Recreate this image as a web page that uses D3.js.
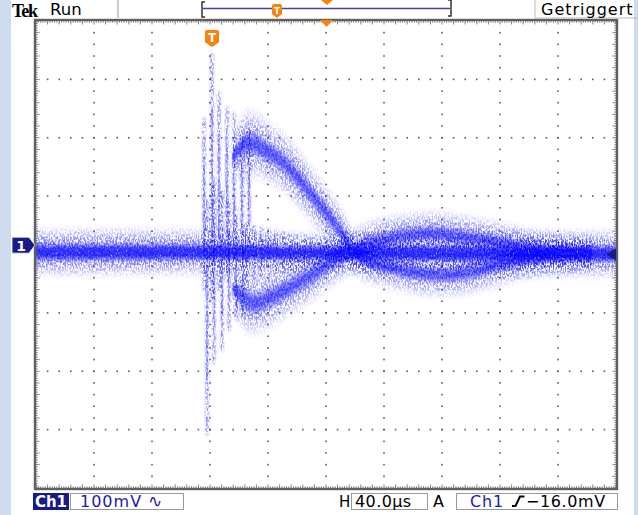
<!DOCTYPE html>
<html><head><meta charset="utf-8">
<script src="https://cdn.jsdelivr.net/npm/d3@7"></script>
<style>body{margin:0;background:#fff}svg{display:block}</style>
</head><body>
<svg id="c" width="638" height="515"></svg>
<script>
// ---------- data (time in µs relative to trigger, voltage in mV relative to ground) ----------
const timeDomain = [-121.4, 278.6];   // 10 div x 40 µs
const voltDomain = [-416, 384];       // 8 div x 100 mV
const divT = 40, divV = 100;
const triggerLevel = -16;

// baseline noise band (centre + half width)
const baseT = [-121.4, -60, -6, 20, 60, 100, 160, 220, 278.6];
const baseV = [-12, -12, -12, -12, -13, -13, -14, -15, -15];
const baseW = [31, 31, 30, 30, 27, 28, 30, 31, 31];

// upper branch (starts high, swings below baseline)
const upT = [14, 19, 24, 30, 38, 47, 59, 70, 79, 86, 92, 97, 105, 123, 150, 173, 197, 219, 240, 262];
const upV = [150, 165, 173, 172, 160, 146, 116, 82, 55, 33, 12, -9, -25, -38, -50, -48, -34, -22, -15, -14];
const upW = [18, 40, 46, 44, 42, 40, 40, 38, 36, 34, 32, 30, 30, 30, 30, 30, 30, 28, 25, 22];

// lower branch (starts low, swings above baseline)
const loT = [14, 19, 24, 30, 41, 57, 69, 79, 91, 97, 105, 123, 150, 173, 197, 219, 240, 262];
const loV = [-75, -85, -95, -99, -89, -68, -51, -34, -17, -10, 0, 12, 20, 14, 5, -5, -12, -14];
const loW = [18, 38, 44, 42, 40, 38, 36, 34, 32, 30, 30, 30, 30, 30, 28, 26, 24, 22];

// ringing burst columns
const spkT  = [-5.5, -3.4, 0, 1.4, 4.8, 6.9, 10.3, 11.7, 15.2, 16.6, 20.7, 21.4, 25.5];
const spkHi = [216, 77, 330, 111, 262, 94, 236, 77, 226, 60, 193, 34, 200];
const spkLo = [-77, -325, -94, -202, -77, -180, -60, -146, -43, -128, -34, -120, -17];

// decaying comb on the middle band
const combT  = [24, 29, 34, 39, 44, 49, 54, 59, 64, 69, 74, 79];
const combHi = [38, 35, 31, 28, 25, 22, 19, 16, 13, 11, 9, 7];
const combLo = [-62, -58, -54, -50, -47, -44, -41, -38, -35, -32, -30, -28];

// ---------- layout ----------
const svg = d3.select('#c');
const L = 36, R = 616, T = 21, B = 488;
const x = d3.scaleLinear().domain(timeDomain).range([L, R]);
const y = d3.scaleLinear().domain(voltDomain).range([B, T]);
const navy = '#1a1a86', orange = '#f7820c', gridC = '#5c5c5c';

// side strips
svg.append('rect').attr('x', 0).attr('y', 0).attr('width', 11).attr('height', 515).attr('fill', '#cfdbee');
svg.append('rect').attr('x', 634).attr('y', 0).attr('width', 4).attr('height', 515).attr('fill', '#cfdbee');

// filters (speckle texture of the persistence display)
const defs = svg.append('defs');
function grain(id, fx, fy, gain, off, seed, blur) {
  const f = defs.append('filter').attr('id', id).attr('filterUnits', 'userSpaceOnUse')
    .attr('x', 0).attr('y', 0).attr('width', 638).attr('height', 515);
  f.append('feTurbulence').attr('type', 'fractalNoise').attr('baseFrequency', fx + ' ' + fy)
    .attr('numOctaves', 3).attr('seed', seed).attr('result', 'n');
  f.append('feColorMatrix').attr('in', 'n').attr('type', 'matrix')
    .attr('values', `0 0 0 0 0  0 0 0 0 0  0 0 0 0 0  ${gain} 0 0 0 ${off}`).attr('result', 'm');
  f.append('feGaussianBlur').attr('in', 'SourceGraphic').attr('stdDeviation', blur).attr('result', 'b');
  f.append('feComposite').attr('in', 'b').attr('in2', 'm').attr('operator', 'in');
}
grain('gA', 0.75, 0.35, 5.0, -2.0, 3, '0.8 2');
grain('gB', 0.8, 0.4, 2.4, 0.0, 11, '0.5 1.2');

// ---------- graticule ----------
const grid = svg.append('g');
const minorT = d3.range(0, 10.0001, 0.2).map(d => timeDomain[0] + d * divT);
const minorV = d3.range(0, 8.0001, 0.2).map(d => voltDomain[0] + d * divV);
const majT = d3.range(1, 10).map(d => timeDomain[0] + d * divT);
const majV = d3.range(1, 8).map(d => voltDomain[0] + d * divV);
majT.forEach(t => minorV.slice(1, -1).forEach(v => grid.append('rect')
  .attr('x', x(t) - 0.8).attr('y', y(v) - 0.8).attr('width', 1.6).attr('height', 1.6).attr('fill', gridC)));
majV.forEach(v => minorT.slice(1, -1).forEach(t => grid.append('rect')
  .attr('x', x(t) - 0.8).attr('y', y(v) - 0.8).attr('width', 1.6).attr('height', 1.6).attr('fill', gridC)));

// ---------- trace ----------
function bandData(Ts, Vs, Ws) { return Ts.map((t, i) => ({ t, v: Vs[i], w: Ws[i] })); }
const bands = [bandData(baseT, baseV, baseW), bandData(upT, upV, upW), bandData(loT, loV, loW)];
const area = k => d3.area().x(d => x(d.t)).y0(d => y(d.v - d.w * k)).y1(d => y(d.v + d.w * k))
  .curve(d3.curveCatmullRom);

const halo = svg.append('g').attr('filter', 'url(#gA)');
bands.forEach((b, bi) => {
  [[1.35, 0.14], [1.05, 0.2], [0.78, 0.28]].forEach(([k, op]) =>
    halo.append('path').datum(b).attr('d', area(k)).attr('fill', '#0000ff').attr('fill-opacity', op * (bi ? 0.8 : 1)));
});
spkT.forEach((t, i) => {
  halo.append('line').attr('x1', x(t)).attr('x2', x(t)).attr('y1', y(spkHi[i])).attr('y2', y(spkLo[i]))
    .attr('stroke', '#0000ff').attr('stroke-width', 2.8).attr('stroke-opacity', 0.6);
});
combT.forEach((t, i) => {
  halo.append('line').attr('x1', x(t)).attr('x2', x(t)).attr('y1', y(combHi[i])).attr('y2', y(combLo[i]))
    .attr('stroke', '#0000ff').attr('stroke-width', 3).attr('stroke-opacity', 0.55);
});

const core = svg.append('g').attr('filter', 'url(#gB)');
bands.forEach((b, bi) => {
  [[0.5, 0.28], [0.36, 0.45], [0.2, 0.6]].forEach(([k, op]) =>
    core.append('path').datum(b).attr('d', area(k)).attr('fill', '#0808ff').attr('fill-opacity', op * (bi ? 0.55 : 1)));
});
spkT.forEach((t, i) => {
  const m = (spkHi[i] + spkLo[i]) / 2, h = (spkHi[i] - spkLo[i]) / 2 * 0.55;
  core.append('line').attr('x1', x(t)).attr('x2', x(t)).attr('y1', y(m + h)).attr('y2', y(m - h))
    .attr('stroke', '#0000ff').attr('stroke-width', 1.6).attr('stroke-opacity', 0.25);
});

// ---------- border with ticks ----------
const fr = svg.append('g');
const fineT = d3.range(0, 10.0001, 0.04).map(d => timeDomain[0] + d * divT);
const fineV = d3.range(0, 8.0001, 0.04).map(d => voltDomain[0] + d * divV);
fineT.forEach((t, i) => {
  const len = i % 5 === 0 ? 3.5 : 1.6;
  fr.append('line').attr('x1', x(t)).attr('x2', x(t)).attr('y1', T).attr('y2', T + len).attr('stroke', gridC).attr('stroke-width', 0.8);
  fr.append('line').attr('x1', x(t)).attr('x2', x(t)).attr('y1', B).attr('y2', B - len).attr('stroke', gridC).attr('stroke-width', 0.8);
});
fineV.forEach((v, i) => {
  const len = i % 5 === 0 ? 3.5 : 1.6;
  fr.append('line').attr('y1', y(v)).attr('y2', y(v)).attr('x1', L).attr('x2', L + len).attr('stroke', gridC).attr('stroke-width', 0.8);
  fr.append('line').attr('y1', y(v)).attr('y2', y(v)).attr('x1', R).attr('x2', R - len).attr('stroke', gridC).attr('stroke-width', 0.8);
});
fr.append('rect').attr('x', L - 1).attr('y', T - 1).attr('width', R - L + 2).attr('height', B - T + 2)
  .attr('fill', 'none').attr('stroke', '#606060').attr('stroke-width', 2.4);

// ---------- markers ----------
const gy = y(0);
svg.append('path').attr('d', `M12,${gy - 8}H29L35,${gy}L29,${gy + 8}H12Z`).attr('fill', navy).attr('stroke', '#fff').attr('stroke-width', 0.8);
svg.append('text').attr('x', 21).attr('y', gy + 5.5).attr('text-anchor', 'middle').attr('fill', '#fff')
  .attr('font-family', 'DejaVu Sans').attr('font-weight', 'bold').attr('font-size', 14).text('1');
const ty = y(triggerLevel);
svg.append('path').attr('d', `M606,${ty}L616,${ty - 6}V${ty + 6}Z`).attr('fill', navy);

function tMarker(cx, top, w, h, fs) {
  const g = svg.append('g');
  g.append('path').attr('d', `M${cx - w / 2},${top + 2}Q${cx - w / 2},${top} ${cx - w / 2 + 2},${top}H${cx + w / 2 - 2}Q${cx + w / 2},${top} ${cx + w / 2},${top + 2}V${top + h * 0.72}L${cx},${top + h}L${cx - w / 2},${top + h * 0.72}Z`)
    .attr('fill', orange);
  g.append('text').attr('x', cx).attr('y', top + h * 0.68).attr('text-anchor', 'middle').attr('fill', '#fff')
    .attr('font-family', 'DejaVu Sans').attr('font-weight', 'bold').attr('font-size', fs).text('T');
}
tMarker(x(0), 30, 14, 17, 12);
const cT = (timeDomain[0] + timeDomain[1]) / 2;
svg.append('path').attr('d', `M${x(cT) - 6},${T - 1}H${x(cT) + 7}L${x(cT) + 0.5},${T + 6}Z`).attr('fill', orange);

// ---------- top bar ----------
svg.append('text').attr('x', 12).attr('y', 16.5).attr('font-family', 'Liberation Serif').attr('font-weight', 'bold')
  .attr('font-size', 18).attr('letter-spacing', -1.2).attr('fill', '#000').text('Tek');
svg.append('text').attr('x', 50).attr('y', 15).attr('font-family', 'DejaVu Sans').attr('font-size', 16.5).attr('fill', '#000').text('Run');
svg.append('line').attr('x1', 118).attr('x2', 118).attr('y1', 0).attr('y2', 18).attr('stroke', '#999');
svg.append('path').attr('d', 'M205,2H202V17H205').attr('fill', 'none').attr('stroke', '#333').attr('stroke-width', 1.5);
svg.append('path').attr('d', 'M448,0H451V16H448').attr('fill', 'none').attr('stroke', '#333').attr('stroke-width', 1.5);
svg.append('line').attr('x1', 203).attr('x2', 450).attr('y1', 8.5).attr('y2', 8.5).attr('stroke', '#4040b0').attr('stroke-width', 1.5);
tMarker(277, 4, 10, 14, 9);
svg.append('path').attr('d', 'M321,0H333L327,5Z').attr('fill', orange);
svg.append('path').attr('d', 'M535,0V18H638').attr('fill', 'none').attr('stroke', '#bbb');
svg.append('text').attr('x', 541).attr('y', 15).attr('font-family', 'DejaVu Sans').attr('font-size', 16)
  .attr('letter-spacing', 1).attr('fill', '#000').text('Getriggert');

// ---------- bottom bar ----------
const by = 493, bh = 17;
svg.append('rect').attr('x', 33).attr('y', by).attr('width', 36).attr('height', bh).attr('fill', navy);
svg.append('text').attr('x', 51).attr('y', by + 14).attr('text-anchor', 'middle').attr('font-family', 'DejaVu Sans')
  .attr('font-weight', 'bold').attr('font-size', 15).attr('fill', '#fff').text('Ch1');
svg.append('rect').attr('x', 70.5).attr('y', by + 0.5).attr('width', 113).attr('height', bh - 1).attr('fill', 'none').attr('stroke', '#999');
svg.append('text').attr('x', 80).attr('y', by + 14).attr('font-family', 'DejaVu Sans').attr('font-size', 16)
  .attr('letter-spacing', 1).attr('fill', '#1c1ca6').text('100mV');
svg.append('text').attr('x', 148).attr('y', by + 14).attr('font-family', 'DejaVu Sans').attr('font-size', 17)
  .attr('fill', '#1c1ca6').text('∿');
svg.append('text').attr('x', 339).attr('y', by + 14).attr('font-family', 'DejaVu Sans').attr('font-size', 15).attr('fill', '#000').text('H');
svg.append('rect').attr('x', 351.5).attr('y', by + 0.5).attr('width', 76).attr('height', bh - 1).attr('fill', 'none').attr('stroke', '#999');
svg.append('text').attr('x', 355).attr('y', by + 14).attr('font-family', 'DejaVu Sans').attr('font-size', 16)
  .attr('letter-spacing', 0.4).attr('fill', '#000').text('40.0µs');
svg.append('text').attr('x', 433).attr('y', by + 14).attr('font-family', 'DejaVu Sans').attr('font-size', 16).attr('fill', '#000').text('A');
svg.append('rect').attr('x', 456.5).attr('y', by + 0.5).attr('width', 161).attr('height', bh - 1).attr('fill', 'none').attr('stroke', '#999');
svg.append('text').attr('x', 470).attr('y', by + 14).attr('font-family', 'DejaVu Sans').attr('font-size', 16)
  .attr('letter-spacing', 0.8).attr('fill', '#1c1ca6').text('Ch1');
svg.append('path').attr('d', `M512,${by + 13}H515.5L520,${by + 3.5}H524.5`).attr('fill', 'none').attr('stroke', '#000').attr('stroke-width', 2);
svg.append('text').attr('x', 526).attr('y', by + 14).attr('font-family', 'DejaVu Sans').attr('font-size', 16)
  .attr('letter-spacing', 0.6).attr('fill', '#000').text('−16.0mV');
</script>
</body></html>
